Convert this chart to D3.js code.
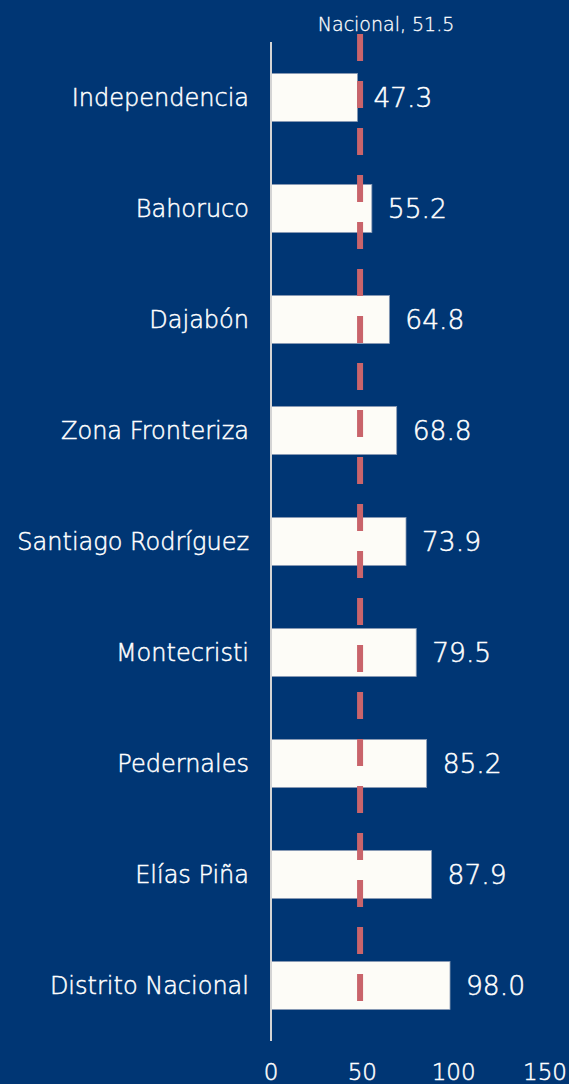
<!DOCTYPE html>
<html>
<head>
<meta charset="utf-8">
<script src="https://cdn.jsdelivr.net/npm/d3@7"></script>
<style>
  html, body { margin: 0; padding: 0; background: #003674; }
  text { font-family: "DejaVu Sans", sans-serif; font-weight: 200; fill: #ffffff;
         stroke: #ffffff; stroke-width: 0.5px; }
</style>
</head>
<body>
<div id="chart"></div>
<script>
var categories = ["Independencia", "Bahoruco", "Dajabón", "Zona Fronteriza",
                  "Santiago Rodríguez", "Montecristi", "Pedernales", "Elías Piña",
                  "Distrito Nacional"];
var values = [47.3, 55.2, 64.8, 68.8, 73.9, 79.5, 85.2, 87.9, 98.0];
var ticks = [0, 50, 100, 150];
var national = 51.5;
var nationalLabel = "Nacional, 51.5";

var width = 569, height = 1084;

var svg = d3.select("#chart").append("svg")
  .attr("width", width)
  .attr("height", height);

svg.append("rect")
  .attr("width", width).attr("height", height)
  .attr("fill", "#003674");

var x = d3.scaleLinear().domain([0, 150]).range([271, 545]);
var y = d3.scaleBand().domain(categories).range([42, 1041])
  .paddingInner(0.568).paddingOuter(0.284);

// bars
svg.selectAll("rect.bar")
  .data(values).enter().append("rect")
  .attr("class", "bar")
  .attr("x", x(0))
  .attr("y", function(d, i) { return y(categories[i]); })
  .attr("width", function(d) { return x(d) - x(0); })
  .attr("height", y.bandwidth())
  .attr("fill", "#fdfcf7")
  .attr("stroke", "#8a9bb5")
  .attr("stroke-width", 0.8);

// vertical axis line
svg.append("line")
  .attr("x1", x(0)).attr("x2", x(0))
  .attr("y1", 42).attr("y2", 1041)
  .attr("stroke", "#d4d4d4")
  .attr("stroke-width", 2);

// national reference (dashed)
var nx = x(national) - 5;
svg.append("line")
  .attr("x1", nx).attr("x2", nx)
  .attr("y1", 34).attr("y2", 1020)
  .attr("stroke", "#c9646b")
  .attr("stroke-width", 6)
  .attr("stroke-dasharray", "27,20");

svg.append("text")
  .attr("x", nx + 26).attr("y", 31)
  .attr("text-anchor", "middle")
  .style("font-size", "19px")
  .style("stroke-width", "0.3px")
  .text(nationalLabel);

// category labels
svg.selectAll("text.cat")
  .data(categories).enter().append("text")
  .attr("class", "cat")
  .attr("x", 249)
  .attr("y", function(d) { return y(d) + y.bandwidth() / 2; })
  .attr("dy", "0.36em")
  .attr("text-anchor", "end")
  .style("font-size", "24px")
  .text(function(d) { return d; });

// value labels
svg.selectAll("text.val")
  .data(values).enter().append("text")
  .attr("class", "val")
  .attr("x", function(d) { return x(d) + 16; })
  .attr("y", function(d, i) { return y(categories[i]) + y.bandwidth() / 2; })
  .attr("dy", "0.37em")
  .style("font-size", "26.5px")
  .text(function(d) { return d.toFixed(1); });

// x tick labels
svg.selectAll("text.tick")
  .data(ticks).enter().append("text")
  .attr("class", "tick")
  .attr("x", function(d) { return x(d); })
  .attr("y", 1080)
  .attr("text-anchor", "middle")
  .style("font-size", "23px")
  .text(function(d) { return d; });
</script>
</body>
</html>
